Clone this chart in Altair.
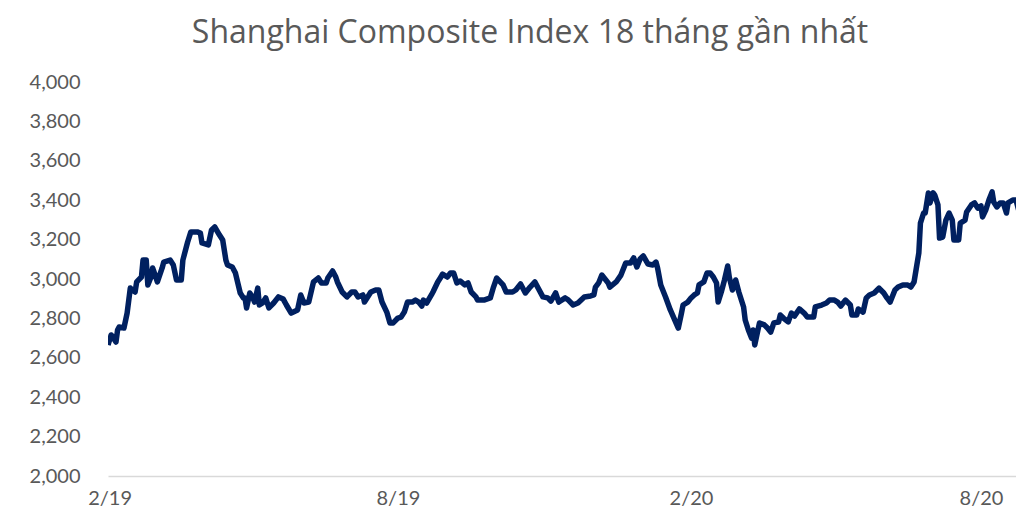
import altair as alt
import pandas as pd

# day offsets from 2019-02-01 and index closes
days = [-1, 1, 2, 4, 5, 6, 9, 11, 13, 14, 16, 17, 20, 21, 23, 24, 26, 27, 29, 30,
        33, 34, 38, 40, 42, 45, 46, 48, 49, 51, 55, 57, 58, 62, 64, 66, 69, 71, 73, 74,
        77, 79, 82, 84, 85, 86, 88, 90, 91, 93,
        94, 96, 98, 100, 103, 106, 109, 111, 114, 118, 120, 122, 125, 128, 131, 133, 136, 137, 140, 142,
        143, 146, 149, 152, 154, 156, 159, 160, 164, 167, 169, 171, 174, 176, 178, 181, 183, 185, 187,
        190, 192, 194, 196, 197, 199, 202, 203, 206, 208, 209, 212, 214, 216, 218, 220, 223, 225, 227, 230,
        231, 235, 239, 241, 243, 247, 249, 253, 255, 258, 261, 264, 267, 269, 272, 275, 277, 280, 282,
        286, 288, 291, 294, 298, 302, 304, 305, 307, 309, 310, 313, 314, 318, 321, 324, 327, 329, 331, 333,
        335, 338, 341, 343, 344, 346, 349, 352, 357, 359, 360, 363, 365, 367, 369, 370, 373, 375, 377,
        379, 381, 382, 384, 386, 388, 389, 391, 393, 395, 398, 399, 401, 403, 404, 405, 407, 408, 411, 413,
        415, 417, 420, 421, 423, 426, 428, 430, 433, 436, 438, 442, 443, 447, 450, 452, 455, 457, 459, 462,
        465, 466, 469, 470,
        473, 475, 477, 480, 483, 486, 488, 490, 493, 495, 498, 501, 503, 505, 508, 509, 511, 512, 514, 515,
        517, 518, 520, 521, 523, 525, 527, 529, 530, 533, 534, 537, 538, 541, 543, 545, 547, 548, 550, 552,
        554, 555, 557, 559, 561, 563, 564, 567, 569, 571, 574, 575]

closes = [2665, 2716, 2705, 2680, 2741, 2756, 2751, 2827, 2954, 2944, 2934, 2985, 3010, 3096, 3096, 2969, 3010, 3056, 3010, 2985,
          3056, 3086, 3096, 3071, 2995, 2995, 3096, 3157, 3188, 3239, 3239, 3233, 3183, 3173, 3249, 3264, 3223, 3198, 3096, 3071,
          3061, 3030, 2929, 2904, 2904, 2853, 2929, 2904, 2883, 2954,
          2868, 2878, 2904, 2853, 2878, 2909, 2898, 2868, 2827, 2843, 2919, 2878, 2883, 2985, 3005, 2980, 2980, 3005, 3041, 3010,
          2985, 2934, 2909, 2934, 2934, 2909, 2919, 2883, 2934, 2944, 2944, 2883, 2832, 2777, 2777, 2802, 2807, 2832, 2883,
          2883, 2893, 2883, 2863, 2893, 2878, 2919, 2934, 2985, 3010, 3025, 3010, 3030, 3030, 2980, 2990, 2970, 2980, 2934, 2909,
          2893, 2893, 2904, 2959, 3005, 2970, 2934, 2934, 2944, 2975, 2929, 2959, 2985, 2954, 2909, 2904, 2888, 2929, 2883,
          2904, 2893, 2868, 2878, 2909, 2914, 2919, 2959, 2980, 3020, 3010, 2980, 2959, 2985, 3020, 3081, 3081, 3107, 3061, 3102,
          3117, 3076, 3071, 3086, 3056, 2970, 2909, 2843, 2751, 2827, 2868, 2883, 2904, 2919, 2929, 2970, 2985, 3030, 3030,
          3010, 2980, 2883, 2934, 2995, 3066, 3010, 2944, 2995, 2934, 2858, 2792, 2741, 2700, 2741, 2665, 2741, 2777, 2767, 2751,
          2731, 2777, 2782, 2817, 2802, 2782, 2827, 2812, 2848, 2827, 2807, 2807, 2858, 2868, 2878, 2893, 2893, 2883, 2863, 2893,
          2868, 2817, 2817, 2848,
          2832, 2904, 2919, 2929, 2954, 2929, 2904, 2883, 2944, 2959, 2970, 2970, 2959, 2985, 3132, 3284, 3335, 3335, 3437, 3386,
          3437, 3426, 3376, 3208, 3213, 3299, 3335, 3299, 3198, 3198, 3284, 3299, 3340, 3376, 3386, 3360, 3371, 3315, 3350, 3401,
          3442, 3391, 3366, 3386, 3386, 3335, 3386, 3401, 3401, 3340, 3289, 3250]

tick_dates = [(2019, 2), (2019, 8), (2020, 2), (2020, 8)]
title_text = "Shanghai Composite Index 18 tháng gần nhất"

df = pd.DataFrame({
    "date": (pd.Timestamp("2019-02-01") + pd.to_timedelta(days, unit="D")).strftime("%Y-%m-%dT00:00:00"),
    "close": closes,
})

FONT = "Lato"
TITLE_FONT = "Open Sans"
GREY = "#595959"

chart = (
    alt.Chart(df)
    .mark_line(color="#002060", strokeWidth=5.5, clip=True, strokeJoin="round")
    .encode(
        x=alt.X(
            "date:T",
            scale=alt.Scale(domain=[alt.DateTime(year=2019, month=1, date=31),
                                    alt.DateTime(year=2020, month=8, date=23)]),
            axis=alt.Axis(
                title=None,
                values=[alt.DateTime(year=y, month=m, date=1) for y, m in tick_dates],
                format="%-m/%y",
                grid=False,
                ticks=False,
                tickSize=0,
                domainColor="#d9d9d9",
                domainWidth=1.5,
                labelPadding=12,
                labelFontSize=20,
                labelColor=GREY,
                labelFont=FONT,
            ),
        ),
        y=alt.Y(
            "close:Q",
            scale=alt.Scale(domain=[2000, 4000], nice=False, zero=False),
            axis=alt.Axis(
                title=None,
                values=list(range(2000, 4001, 200)),
                format=",.0f",
                grid=False,
                domain=False,
                ticks=False,
                tickSize=0,
                labelPadding=28,
                labelFontSize=20,
                labelColor=GREY,
                labelFont=FONT,
            ),
        ),
    )
    .properties(
        width=908,
        height=394,
        autosize=alt.AutoSizeParams(type="none"),
        padding={"left": 100, "top": 74, "right": 0, "bottom": 40},
        title=alt.TitleParams(
            title_text,
            font=TITLE_FONT,
            fontSize=32,
            fontWeight="normal",
            color=GREY,
            anchor="middle",
            dx=-32,
            offset=22,
        ),
    )
    .configure_view(stroke=None)
)

chart.save("out.html", embed_options={"renderer": "svg", "actions": False})
